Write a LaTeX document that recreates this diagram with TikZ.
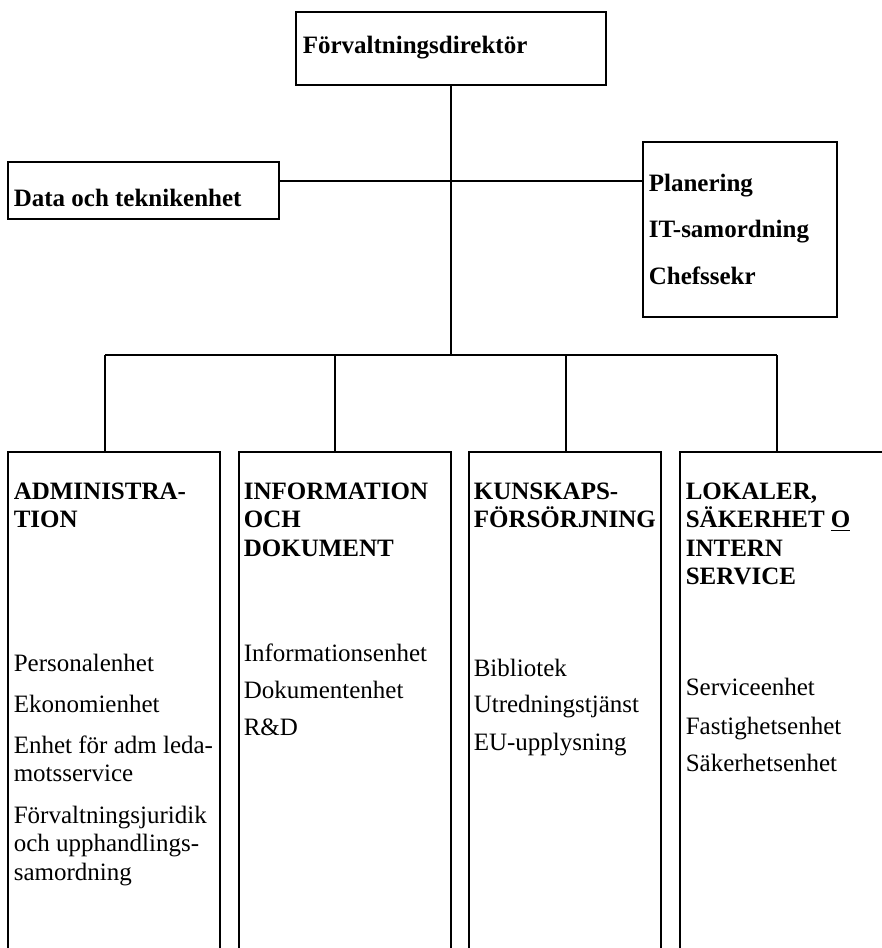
\documentclass[tikz,border=0pt]{standalone}
\usepackage{fontspec}
\setmainfont{Liberation Serif}
\usepackage{tikz}
\usetikzlibrary{positioning,calc,fit}
\newcommand\orgfont{\fontsize{12.5}{14.25}\selectfont}
\tikzset{
  orgchartpic/.style={
    x=0.5pt
    ,y=-0.5pt
    ,line width=0.8pt
  }
  ,unitbox/.style={draw=black,inner sep=0pt,outer sep=0pt}
  % multi-line texts sit on the baseline of their last line
  ,unithead/.style={anchor=base west,inner sep=0pt,align=left,font=\orgfont\bfseries}
  ,unititem/.style={anchor=base west,inner sep=0pt,align=left,font=\orgfont}
}

\begin{document}
\begin{tikzpicture}[orgchartpic]
    \clip (0,0) rectangle (882,948);
    % top level
    \node[unitbox,fit={(296,12) (606,85)}] (dirbox) {};
    \node[unithead] (dirname) at (302,53) {Förvaltningsdirektör};
    \node[unitbox,fit={(8,162) (279,219)}] (databox) {};
    \node[unithead] (dataname) at (13,206) {Data och teknikenhet};
    \node[unitbox,fit={(643,142) (837,317)}] (staffbox) {};
    \node[unithead] (plan) at (648,191) {Planering};
    \node[unithead] (itsam) at (648,237) {IT-samordning};
    \node[unithead] (chefs) at (648,284) {Chefssekr};
    % departments
    \node[unitbox,fit={(8,452) (220,960)}] (admbox) {};
    \node[unithead] (admname) at (13,527.5) {ADMINISTRA-\\TION};
    \node[unititem] (pers) at (13,671) {Personalenhet};
    \node[unititem] (ekon) at (13,712) {Ekonomienhet};
    \node[unititem] (leda) at (13,781.5) {Enhet för adm leda-\\motsservice};
    \node[unititem] (jur) at (13,880) {Förvaltningsjuridik\\och upphandlings-\\samordning};
    \node[unitbox,fit={(239,452) (451,960)}] (infobox) {};
    \node[unithead] (infoname) at (243,556) {INFORMATION\\OCH\\DOKUMENT};
    \node[unititem] (inf) at (243,661) {Informationsenhet};
    \node[unititem] (dok) at (243,698) {Dokumentenhet};
    \node[unititem] (rd) at (243,735) {R\&D};
    \node[unitbox,fit={(469,452) (661,960)}] (kunbox) {};
    \node[unithead] (kunname) at (473,527.5) {KUNSKAPS-\\FÖRSÖRJNING};
    \node[unititem] (bibl) at (473,676) {Bibliotek};
    \node[unititem] (utr) at (473,712) {Utredningstjänst};
    \node[unititem] (eu) at (473,750) {EU-upplysning};
    \node[unitbox,fit={(680,452) (900,960)}] (lokbox) {};
    \node[unithead] (lokname) at (685,584.5) {LOKALER,\\SÄKERHET \underline{O}\\INTERN\\SERVICE};
    \node[unititem] (serv) at (685,695) {Serviceenhet};
    \node[unititem] (fast) at (685,734) {Fastighetsenhet};
    \node[unititem] (sak) at (685,771) {Säkerhetsenhet};
    % lines
    \coordinate (staffline) at (dirbox.south |- 0,181);
    \coordinate (bus) at (dirbox.south |- 0,355);
    \coordinate (admdrop) at (105,355);
    \coordinate (infodrop) at (335,355);
    \coordinate (kundrop) at (566,355);
    \coordinate (lokdrop) at (777,355);
    \draw (dirbox.south) -- (bus);
    \draw (databox.east |- staffline) -- (staffbox.west |- staffline);
    \draw (admdrop) -- (lokdrop);
    \foreach \d/\b in {admdrop/admbox,infodrop/infobox,kundrop/kunbox,lokdrop/lokbox}
      \draw (\d) -- (\d |- \b.north);
\end{tikzpicture}
\end{document}
